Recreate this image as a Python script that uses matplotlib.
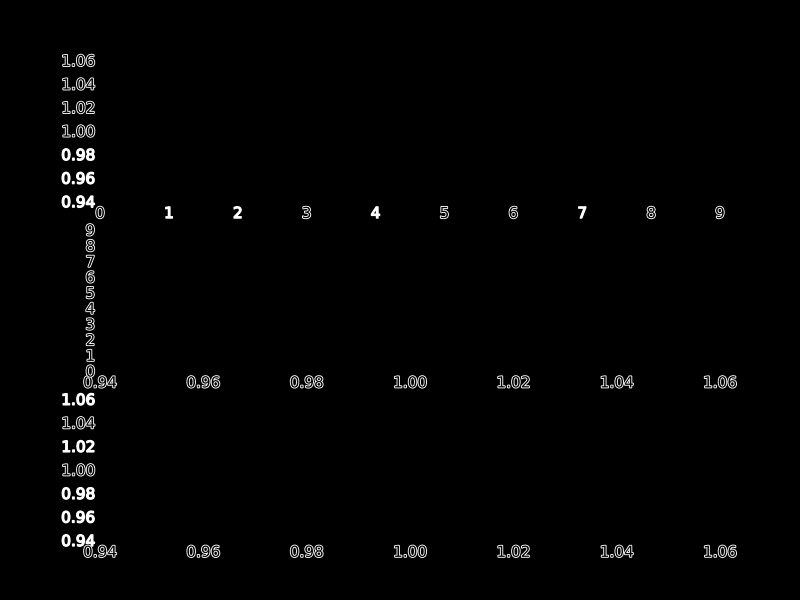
import matplotlib
matplotlib.use("Agg")
import matplotlib.pyplot as plt
import matplotlib.patheffects as pe

# tick values
digit_ticks = [0, 1, 2, 3, 4, 5, 6, 7, 8, 9]
value_ticks = [0.94, 0.96, 0.98, 1.00, 1.02, 1.04, 1.06]

# which labels look solid white (the rest look like white outlines)
top_x_solid = ["1", "2", "4", "7"]
top_y_solid = ["0.94", "0.96", "0.98"]
bottom_y_solid = ["0.94", "0.96", "0.98", "1.02", "1.06"]

outline = [pe.withStroke(linewidth=1.3, foreground="white")]
thick = [pe.withStroke(linewidth=1.0, foreground="white")]


def style_labels(labels, solid):
    for lab in labels:
        if lab.get_text() in solid:
            lab.set_color("white")
            lab.set_path_effects(thick)
        else:
            lab.set_color("black")
            lab.set_path_effects(outline)


fig, axes = plt.subplots(3, 1, figsize=(8, 6), dpi=100)
fig.patch.set_facecolor("black")
fig.subplots_adjust(left=0.125, right=0.9, top=0.9, bottom=0.1, hspace=0.2)

ax_top, ax_mid, ax_bot = axes

ax_top.set_xlim(min(digit_ticks), max(digit_ticks))
ax_top.set_ylim(min(value_ticks), max(value_ticks))
ax_top.set_xticks(digit_ticks, [str(d) for d in digit_ticks])
ax_top.set_yticks(value_ticks, [f"{v:.2f}" for v in value_ticks])

ax_mid.set_xlim(min(value_ticks), max(value_ticks))
ax_mid.set_ylim(min(digit_ticks), max(digit_ticks))
ax_mid.set_xticks(value_ticks, [f"{v:.2f}" for v in value_ticks])
ax_mid.set_yticks(digit_ticks, [str(d) for d in digit_ticks])

ax_bot.set_xlim(min(value_ticks), max(value_ticks))
ax_bot.set_ylim(min(value_ticks), max(value_ticks))
ax_bot.set_xticks(value_ticks, [f"{v:.2f}" for v in value_ticks])
ax_bot.set_yticks(value_ticks, [f"{v:.2f}" for v in value_ticks])

for ax in axes:
    ax.set_facecolor("black")
    for s in ax.spines.values():
        s.set_visible(False)
    ax.tick_params(length=0, labelsize=11)

style_labels(ax_top.get_xticklabels(), top_x_solid)
style_labels(ax_top.get_yticklabels(), top_y_solid)
style_labels(ax_mid.get_xticklabels(), [])
style_labels(ax_mid.get_yticklabels(), [])
style_labels(ax_bot.get_xticklabels(), [])
style_labels(ax_bot.get_yticklabels(), bottom_y_solid)

fig.savefig("out.png", dpi=100, facecolor=fig.get_facecolor())
